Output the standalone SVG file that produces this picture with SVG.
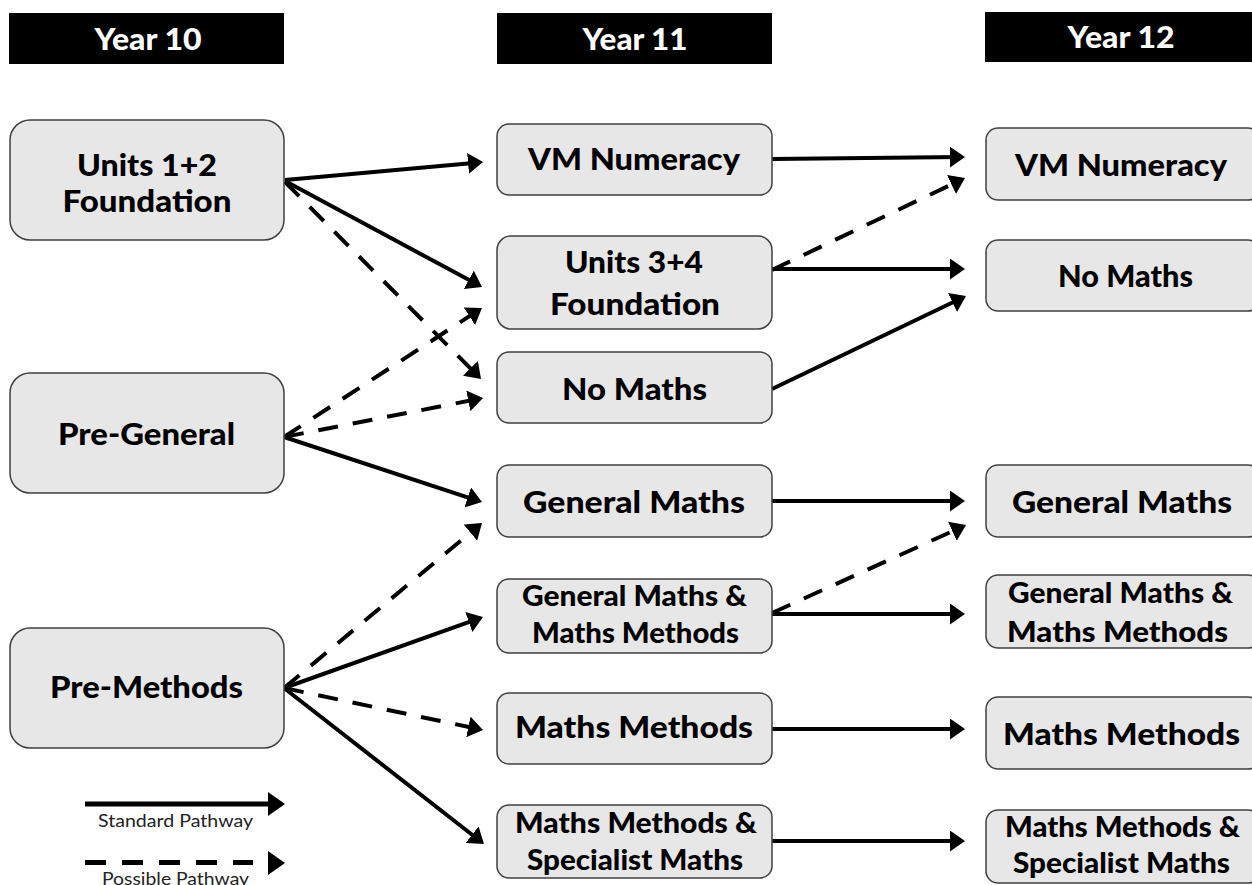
<svg xmlns="http://www.w3.org/2000/svg" width="1252" height="885" viewBox="0 0 1252 885">
<style>
.hdr{fill:#000}
.ht{font-family:Lato,"Open Sans",sans-serif;font-weight:900;font-size:31px;fill:#fff;text-anchor:middle}
.box{fill:#e7e7e7;stroke:#404040;stroke-width:1.5}
.t{font-family:Lato,"Open Sans",sans-serif;font-weight:900;font-size:31px;fill:#000;text-anchor:middle}
.ts{font-family:Lato,"Open Sans",sans-serif;font-weight:900;font-size:28px;fill:#000;text-anchor:middle}
.c{fill:none;stroke:#000;stroke-width:4;marker-end:url(#ah)}
.d{stroke-dasharray:20 15}
.lg{font-family:Lato,"Open Sans",sans-serif;font-size:18px;fill:#222;text-anchor:middle}
</style>
<defs>
<marker id="ah" markerUnits="userSpaceOnUse" markerWidth="15" markerHeight="21" refX="11" refY="10.5" orient="auto">
<path d="M0,0 L15,10.5 L0,21 z" fill="#000"/>
</marker>
</defs>
<rect width="1252" height="885" fill="#fff"/>
<g id="headers">
<rect class="hdr" x="9" y="13" width="275" height="51"/>
<text class="ht" x="148" y="50" textLength="107" lengthAdjust="spacingAndGlyphs">Year 10</text>
<rect class="hdr" x="497" y="13" width="275" height="51"/>
<text class="ht" x="635" y="50" textLength="105" lengthAdjust="spacingAndGlyphs">Year 11</text>
<rect class="hdr" x="985" y="12" width="275" height="50"/>
<text class="ht" x="1121" y="48" textLength="107" lengthAdjust="spacingAndGlyphs">Year 12</text>
</g>
<g id="connectors">
<path class="c" d="M285,180 L479,162.4"/>
<path class="c" d="M285,181 L478.5,285.1"/>
<path class="c d" d="M285,182 L478.2,376.2"/>
<path class="c d" d="M284,437 L478.6,310.2"/>
<path class="c d" d="M284,437 L479.1,398.8"/>
<path class="c" d="M284,437 L478.2,500.8"/>
<path class="c d" d="M284,688 L478.9,525.6"/>
<path class="c" d="M284,688 L479.2,618.3"/>
<path class="c d" d="M284,688 L479.1,729.2"/>
<path class="c" d="M284,688 L480.8,841.5"/>
<path class="c" d="M772,159 L961,157"/>
<path class="c d" d="M772,270 L961.4,179.7"/>
<path class="c" d="M772,269 L961,269"/>
<path class="c" d="M772,389 L962.4,297.7"/>
<path class="c" d="M772,501 L961,501"/>
<path class="c d" d="M772,613 L962.4,526.7"/>
<path class="c" d="M772,614 L961,614"/>
<path class="c" d="M772,729 L961,729"/>
<path class="c" d="M772,841 L961,841"/>
</g>
<g id="y10-units12">
<rect class="box" x="10" y="120" width="274" height="120" rx="20"/>
<text class="t" x="147" y="176" textLength="140" lengthAdjust="spacingAndGlyphs">Units 1+2</text>
<text class="t" x="147" y="212" textLength="169" lengthAdjust="spacingAndGlyphs">Foundation</text>
</g>
<g id="y10-pregeneral">
<rect class="box" x="10" y="373" width="274" height="120" rx="20"/>
<text class="t" x="146.5" y="445" textLength="177" lengthAdjust="spacingAndGlyphs">Pre-General</text>
</g>
<g id="y10-premethods">
<rect class="box" x="10" y="628" width="274" height="120" rx="20"/>
<text class="t" x="146.5" y="698" textLength="193" lengthAdjust="spacingAndGlyphs">Pre-Methods</text>
</g>
<g id="y11-vm">
<rect class="box" x="497" y="124" width="275" height="71" rx="12"/>
<text class="t" x="634" y="170" textLength="212" lengthAdjust="spacingAndGlyphs">VM Numeracy</text>
</g>
<g id="y11-units34">
<rect class="box" x="497" y="236" width="275" height="93" rx="14"/>
<text class="t" x="634" y="273" textLength="138" lengthAdjust="spacingAndGlyphs">Units 3+4</text>
<text class="t" x="635" y="315" textLength="170" lengthAdjust="spacingAndGlyphs">Foundation</text>
</g>
<g id="y11-nomaths">
<rect class="box" x="497" y="352" width="275" height="71" rx="12"/>
<text class="t" x="634.5" y="400" textLength="145" lengthAdjust="spacingAndGlyphs">No Maths</text>
</g>
<g id="y11-general">
<rect class="box" x="497" y="465" width="275" height="72" rx="12"/>
<text class="t" x="634" y="513" textLength="222" lengthAdjust="spacingAndGlyphs">General Maths</text>
</g>
<g id="y11-gm-mm">
<rect class="box" x="497" y="579" width="275" height="74" rx="12"/>
<text class="ts" x="634.5" y="606" textLength="225" lengthAdjust="spacingAndGlyphs">General Maths &amp;</text>
<text class="ts" x="635.5" y="643" textLength="207" lengthAdjust="spacingAndGlyphs">Maths Methods</text>
</g>
<g id="y11-methods">
<rect class="box" x="497" y="693" width="275" height="71" rx="12"/>
<text class="t" x="634" y="738" textLength="238" lengthAdjust="spacingAndGlyphs">Maths Methods</text>
</g>
<g id="y11-mm-sm">
<rect class="box" x="497" y="805" width="275" height="73" rx="12"/>
<text class="ts" x="636" y="833" textLength="242" lengthAdjust="spacingAndGlyphs">Maths Methods &amp;</text>
<text class="ts" x="635" y="870" textLength="216" lengthAdjust="spacingAndGlyphs">Specialist Maths</text>
</g>
<g id="y12-vm">
<rect class="box" x="986" y="128" width="274" height="72" rx="12"/>
<text class="t" x="1121" y="176" textLength="212" lengthAdjust="spacingAndGlyphs">VM Numeracy</text>
</g>
<g id="y12-nomaths">
<rect class="box" x="986" y="240" width="274" height="71" rx="12"/>
<text class="t" x="1125.5" y="287" textLength="135" lengthAdjust="spacingAndGlyphs">No Maths</text>
</g>
<g id="y12-general">
<rect class="box" x="986" y="465" width="274" height="72" rx="12"/>
<text class="t" x="1122" y="513" textLength="220" lengthAdjust="spacingAndGlyphs">General Maths</text>
</g>
<g id="y12-gm-mm">
<rect class="box" x="986" y="575" width="274" height="73" rx="12"/>
<text class="ts" x="1120.5" y="603" textLength="225" lengthAdjust="spacingAndGlyphs">General Maths &amp;</text>
<text class="ts" x="1117.5" y="642" textLength="221" lengthAdjust="spacingAndGlyphs">Maths Methods</text>
</g>
<g id="y12-methods">
<rect class="box" x="986" y="697" width="274" height="72" rx="12"/>
<text class="t" x="1121.5" y="745" textLength="237" lengthAdjust="spacingAndGlyphs">Maths Methods</text>
</g>
<g id="y12-mm-sm">
<rect class="box" x="986" y="810" width="274" height="73" rx="12"/>
<text class="ts" x="1122.5" y="837" textLength="235" lengthAdjust="spacingAndGlyphs">Maths Methods &amp;</text>
<text class="ts" x="1121.5" y="873" textLength="217" lengthAdjust="spacingAndGlyphs">Specialist Maths</text>
</g>
<g id="legend">
<line x1="85" y1="804" x2="270" y2="804" stroke="#000" stroke-width="5"/>
<polygon points="268,792 285,804 268,816" fill="#000"/>
<text class="lg" x="175.5" y="827" textLength="155" lengthAdjust="spacingAndGlyphs">Standard Pathway</text>
<line x1="85" y1="862.5" x2="253" y2="862.5" stroke="#000" stroke-width="5" stroke-dasharray="21 16"/>
<polygon points="268,851 285,863 268,875" fill="#000"/>
<text class="lg" x="175.5" y="885" textLength="147" lengthAdjust="spacingAndGlyphs">Possible Pathway</text>
</g>
</svg>
